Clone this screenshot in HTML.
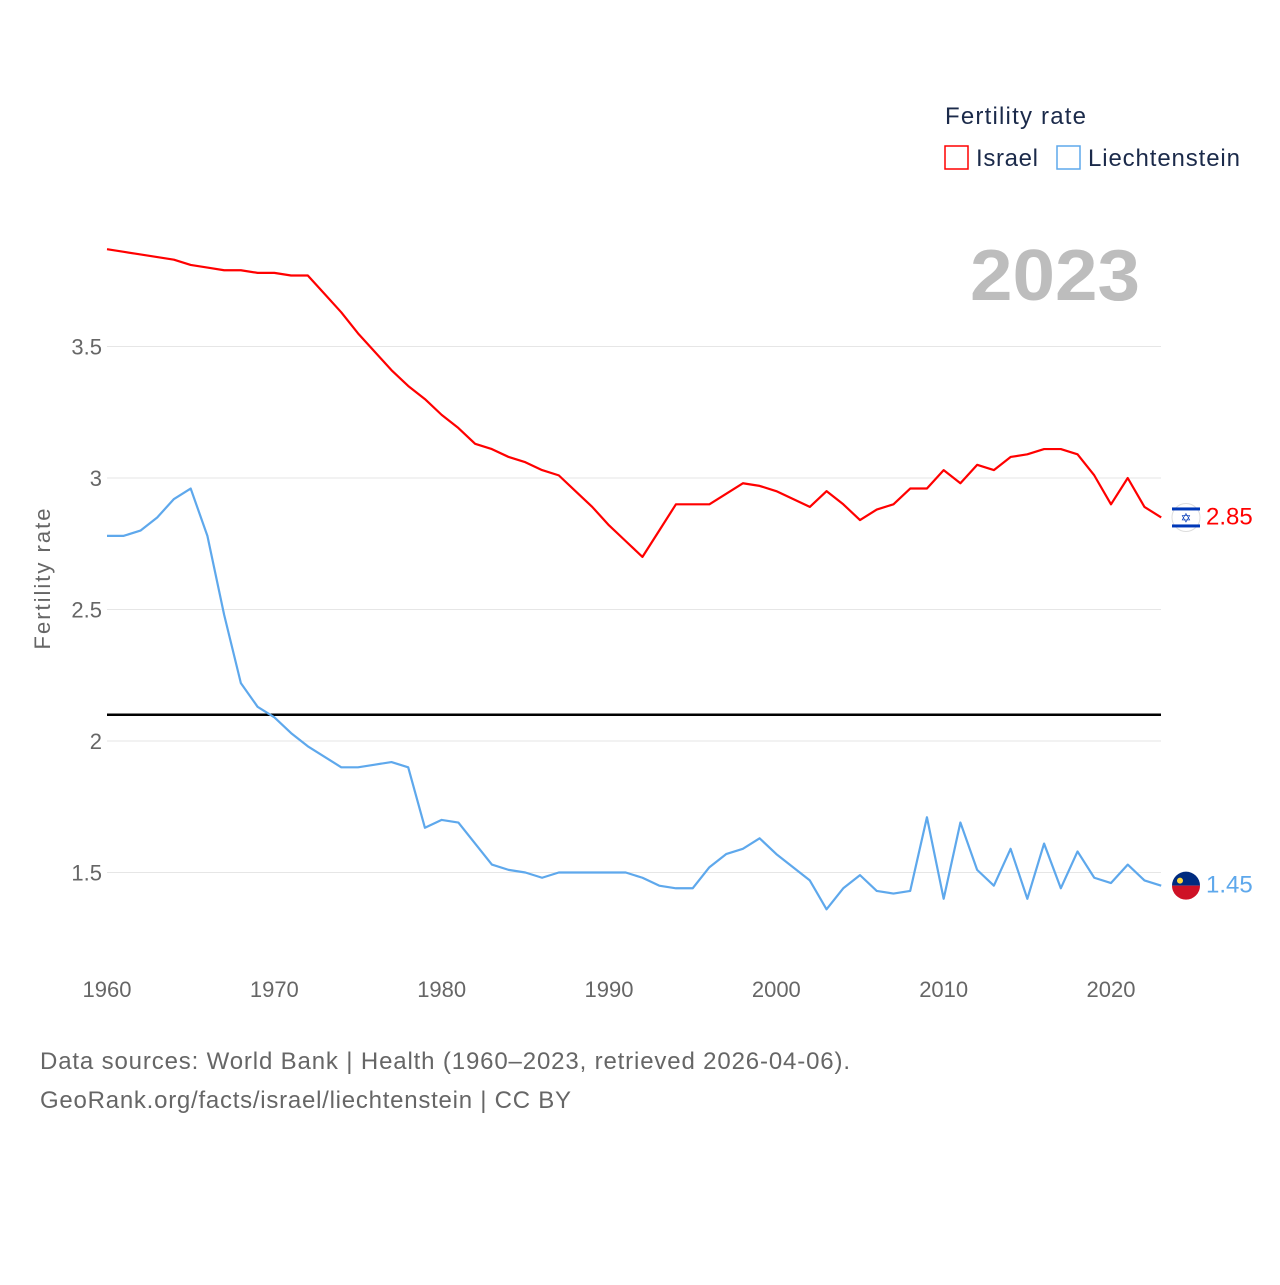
<!DOCTYPE html>
<html><head><meta charset="utf-8"><style>
body{margin:0;background:#fff;font-family:"Liberation Sans",sans-serif;}
svg text{font-family:"Liberation Sans",sans-serif;}
</style></head><body>
<svg id="chart" width="1280" height="1280" xmlns="http://www.w3.org/2000/svg">
<text x="945" y="124" font-size="24" fill="#1b2a4a" textLength="141">Fertility rate</text>
<g><rect x="945" y="146" width="23" height="23" fill="none" stroke="#ff0000" stroke-width="1.5"/><text x="976" y="166" font-size="24" fill="#1b2a4a" textLength="62">Israel</text></g>
<g><rect x="1057" y="146" width="23" height="23" fill="none" stroke="#5ea8ec" stroke-width="1.5"/><text x="1088" y="166" font-size="24" fill="#1b2a4a" textLength="152">Liechtenstein</text></g>
<text x="970" y="300" font-size="72" font-weight="bold" fill="#bdbdbd" textLength="170" lengthAdjust="spacingAndGlyphs">2023</text>
<text transform="translate(50,579) rotate(-90)" font-size="22" fill="#666" text-anchor="middle" textLength="141">Fertility rate</text>
<g id="grid"></g><g id="marks"></g>
<text x="40" y="1069" font-size="24" fill="#666" textLength="810">Data sources: World Bank | Health (1960–2023, retrieved 2026-04-06).</text>
<text x="40" y="1108" font-size="24" fill="#666" textLength="531">GeoRank.org/facts/israel/liechtenstein | CC BY</text>
</svg>
<script>
const years=[];for(let y=1960;y<=2023;y++)years.push(y);
const israel=[3.87,3.86,3.85,3.84,3.83,3.81,3.80,3.79,3.79,3.78,3.78,3.77,3.77,3.70,3.63,3.55,3.48,3.41,3.35,3.30,3.24,3.19,3.13,3.11,3.08,3.06,3.03,3.01,2.95,2.89,2.82,2.76,2.70,2.80,2.90,2.90,2.90,2.94,2.98,2.97,2.95,2.92,2.89,2.95,2.90,2.84,2.88,2.90,2.96,2.96,3.03,2.98,3.05,3.03,3.08,3.09,3.11,3.11,3.09,3.01,2.90,3.00,2.89,2.85];
const liechtenstein=[2.78,2.78,2.80,2.85,2.92,2.96,2.78,2.48,2.22,2.13,2.09,2.03,1.98,1.94,1.90,1.90,1.91,1.92,1.90,1.67,1.70,1.69,1.61,1.53,1.51,1.50,1.48,1.50,1.50,1.50,1.50,1.50,1.48,1.45,1.44,1.44,1.52,1.57,1.59,1.63,1.57,1.52,1.47,1.36,1.44,1.49,1.43,1.42,1.43,1.71,1.40,1.69,1.51,1.45,1.59,1.40,1.61,1.44,1.58,1.48,1.46,1.53,1.47,1.45];
const yTicks=[1.5,2,2.5,3,3.5];
const xTicks=[1960,1970,1980,1990,2000,2010,2020];
const replacement=2.1;
const X=v=>107+(v-1960)*(1111-107)/60;
const Y=v=>741-(v-2)*263;
const NS="http://www.w3.org/2000/svg";
function mk(tag,attrs,parent){const e=document.createElementNS(NS,tag);for(const k in attrs)e.setAttribute(k,attrs[k]);parent.appendChild(e);return e;}
const grid=document.getElementById('grid'),marks=document.getElementById('marks');
yTicks.forEach(t=>{
 const l=mk('line',{x1:107,x2:1161,y1:Y(t),y2:Y(t),stroke:'#e6e6e6','stroke-width':1},grid);
 
 
 const tx=mk('text',{x:102,y:Y(t)+8,'font-size':22,fill:'#666','text-anchor':'end'},grid);tx.textContent=t;
 
 
});
xTicks.forEach(t=>{
 const tx=mk('text',{x:X(t),y:997,'font-size':22,fill:'#666','text-anchor':'middle'},grid);tx.textContent=t;
 
 
});
const rl=mk('line',{x1:107,x2:1161,y1:Y(replacement),y2:Y(replacement),stroke:'#000','stroke-width':2.5},marks);


function series(vals,color,name){
 const p=mk('polyline',{points:vals.map((v,i)=>X(years[i])+','+Y(v)).join(' '),fill:'none',stroke:color,'stroke-width':2.2,'stroke-linejoin':'round'},marks);
 
 
 const last=vals[vals.length-1];
 const t=mk('text',{x:1206,y:Y(last)+7,'font-size':24,fill:color},marks);t.textContent=last.toFixed(2);
 
 
 return Y(last);
}
const yi=series(israel,'#ff0000','israel');
const yl=series(liechtenstein,'#5ea8ec','liechtenstein');
const fi=mk('g',{},marks);


mk('circle',{cx:1186,cy:yi,r:14,fill:'#fff',stroke:'#ddd'},fi);
mk('rect',{x:1172,y:yi-10,width:28,height:3,fill:'#0038b8'},fi);
mk('rect',{x:1172,y:yi+7,width:28,height:3,fill:'#0038b8'},fi);
const st=mk('text',{x:1186,y:yi+5,'font-size':13,fill:'#0038b8','text-anchor':'middle'},fi);st.textContent='✡';
const fl=mk('g',{},marks);


mk('path',{d:`M1172 ${yl} A14 14 0 0 1 1200 ${yl} Z`,fill:'#002b7f'},fl);
mk('path',{d:`M1172 ${yl} A14 14 0 0 0 1200 ${yl} Z`,fill:'#ce1126'},fl);
mk('circle',{cx:1180,cy:yl-5,r:3,fill:'#ffd83d'},fl);
</script>
</body></html>
